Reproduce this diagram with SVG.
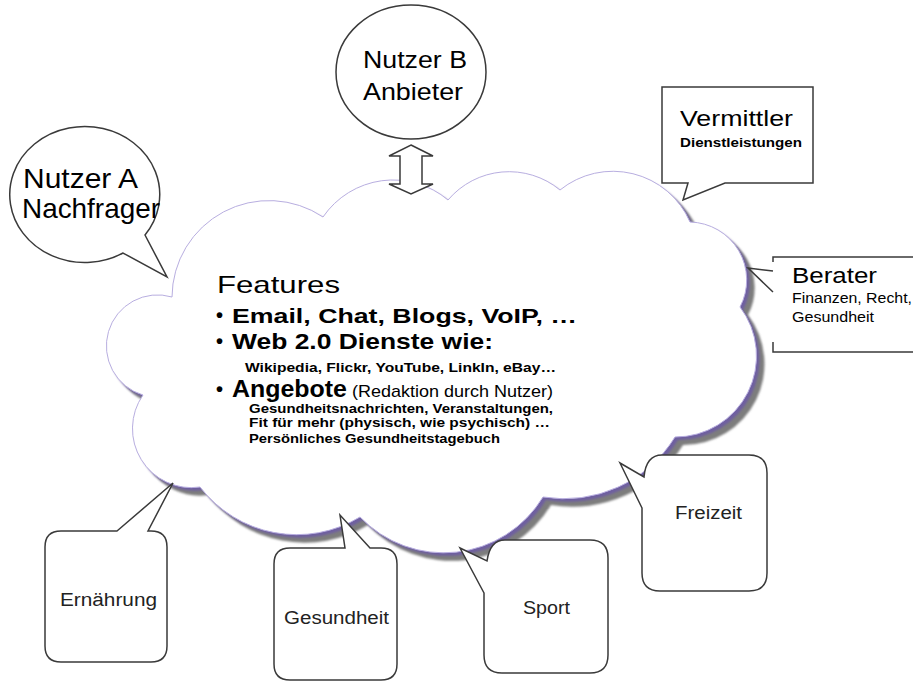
<svg xmlns="http://www.w3.org/2000/svg" width="913" height="684" viewBox="0 0 913 684">
<style>
  text { font-family: "Liberation Sans", Arial, sans-serif; fill: #000; }
  .node { fill: #fff; stroke: #3a3a3a; stroke-width: 1.5; stroke-linejoin: miter; }
  .line { fill: none; stroke: #3a3a3a; stroke-width: 1.5; }
  .b { font-weight: bold; }
  .lbl { font-size: 18px; fill: #222; }
</style>
<defs>
  <path id="cloudShape" d="M 172,297 A 97 97 0 0 1 323,217 A 85 85 0 0 1 448,200 A 80 80 0 0 1 560,190 A 84 84 0 0 1 690,222 A 58 58 0 0 1 740,307 A 81 81 0 0 1 675,437 A 130 130 0 0 1 543,497 A 116 116 0 0 1 360,517 A 122 122 0 0 1 200,487 A 59 59 0 0 1 143,395 A 51 51 0 0 1 172,297 Z"/>
  <filter id="blur" x="-10%" y="-10%" width="120%" height="120%">
    <feGaussianBlur stdDeviation="0.8"/>
  </filter>
</defs>
<rect width="913" height="684" fill="#fff"/>

<g id="cloud">
  <use href="#cloudShape" transform="translate(8,8)" fill="#7d7d7d" filter="url(#blur)"/>
  <use href="#cloudShape" transform="translate(3,3)" fill="#6e5ea0" filter="url(#blur)"/>
  <use href="#cloudShape" fill="#fff" stroke="#b8aee0" stroke-width="1"/>
  <text x="217" y="293" font-size="24" textLength="123" lengthAdjust="spacingAndGlyphs">Features</text>
  <text x="216" y="322" font-size="20" class="b">•</text>
  <text x="232" y="323" font-size="21" class="b" textLength="345" lengthAdjust="spacingAndGlyphs">Email, Chat, Blogs, VoIP, …</text>
  <text x="216" y="348" font-size="20" class="b">•</text>
  <text x="232" y="349" font-size="22" class="b" textLength="261" lengthAdjust="spacingAndGlyphs">Web 2.0 Dienste wie:</text>
  <text x="245" y="372" font-size="13" class="b" textLength="311" lengthAdjust="spacingAndGlyphs">Wikipedia, Flickr, YouTube, LinkIn, eBay…</text>
  <text x="216" y="396" font-size="20" class="b">•</text>
  <text x="232" y="397" font-size="23" class="b" textLength="115" lengthAdjust="spacingAndGlyphs">Angebote</text>
  <text x="352" y="397" font-size="17" textLength="201" lengthAdjust="spacingAndGlyphs">(Redaktion durch Nutzer)</text>
  <text x="249" y="413" font-size="13" class="b" textLength="304" lengthAdjust="spacingAndGlyphs">Gesundheitsnachrichten,  Veranstaltungen,</text>
  <text x="249" y="427" font-size="13" class="b" textLength="301" lengthAdjust="spacingAndGlyphs">Fit für mehr (physisch, wie psychisch) …</text>
  <text x="249" y="443" font-size="13" class="b" textLength="251" lengthAdjust="spacingAndGlyphs">Persönliches  Gesundheitstagebuch</text>
</g>

<g id="connectors">
  <polygon class="node" points="411,145 433,156 422,156 422,184 433,184 411,194 389,184 400,184 400,156 389,156"/>
</g>

<g id="nutzer-b">
  <ellipse class="node" cx="411" cy="72" rx="75" ry="67"/>
  <text x="363" y="68" font-size="24" textLength="104" lengthAdjust="spacingAndGlyphs">Nutzer B</text>
  <text x="363" y="100" font-size="24" textLength="100" lengthAdjust="spacingAndGlyphs">Anbieter</text>
</g>

<g id="nutzer-a">
  <path class="node" d="M 145,235 L 167,277 L 123,253 A 75 68 0 1 1 145,235 Z"/>
  <text x="23" y="188" font-size="28" textLength="115" lengthAdjust="spacingAndGlyphs">Nutzer A</text>
  <text x="22" y="218" font-size="28" textLength="138" lengthAdjust="spacingAndGlyphs">Nachfrager</text>
</g>

<g id="vermittler">
  <path class="node" d="M 662,87 L 813,87 L 813,183 L 725,183 L 683,200 L 688,183 L 662,183 Z"/>
  <text x="680" y="126" font-size="22" textLength="113" lengthAdjust="spacingAndGlyphs">Vermittler</text>
  <text x="680" y="147" font-size="13" class="b" fill="#222" textLength="122" lengthAdjust="spacingAndGlyphs">Dienstleistungen</text>
</g>

<g id="berater">
  <path d="M 773,258 L 913,258 L 913,352 L 773,352 Z" fill="#fff"/>
  <path class="line" d="M 913,257 L 773,257 L 773,262"/>
  <path class="line" d="M 773,271 L 748,268 L 773,292"/>
  <path class="line" d="M 773,342 L 773,352 L 913,352"/>
  <text x="792" y="283" font-size="22" textLength="85" lengthAdjust="spacingAndGlyphs">Berater</text>
  <text x="792" y="303" font-size="14" fill="#222" textLength="120" lengthAdjust="spacingAndGlyphs">Finanzen, Recht,</text>
  <text x="792" y="322" font-size="14" fill="#222" textLength="82" lengthAdjust="spacingAndGlyphs">Gesundheit</text>
</g>

<g id="ernaehrung">
  <path class="node" d="M 117,531 L 173,483 L 148,531 L 151,531 Q 167,531 167,547 L 167,646 Q 167,662 151,662 L 61,662 Q 45,662 45,646 L 45,547 Q 45,531 61,531 Z"/>
  <text class="lbl" x="60" y="606" textLength="97" lengthAdjust="spacingAndGlyphs">Ernährung</text>
</g>

<g id="gesundheit">
  <path class="node" d="M 290,548 L 345,548 L 340,515 L 370,548 L 381,548 Q 397,548 397,564 L 397,664 Q 397,680 381,680 L 290,680 Q 274,680 274,664 L 274,564 Q 274,548 290,548 Z"/>
  <text class="lbl" x="284" y="624" textLength="105" lengthAdjust="spacingAndGlyphs">Gesundheit</text>
</g>

<g id="sport">
  <path class="node" d="M 484,593 L 460,548 L 487,561 Q 490,540 505,540 L 590,540 Q 608,540 608,558 L 608,655 Q 608,673 590,673 L 502,673 Q 484,673 484,655 Z"/>
  <text class="lbl" x="523" y="614" textLength="47" lengthAdjust="spacingAndGlyphs">Sport</text>
</g>

<g id="freizeit">
  <path class="node" d="M 642,508 L 620,463 L 644,477 Q 646,455 662,455 L 749,455 Q 767,455 767,473 L 767,573 Q 767,591 749,591 L 660,591 Q 642,591 642,573 Z"/>
  <text class="lbl" x="675" y="519" textLength="67" lengthAdjust="spacingAndGlyphs">Freizeit</text>
</g>
</svg>
